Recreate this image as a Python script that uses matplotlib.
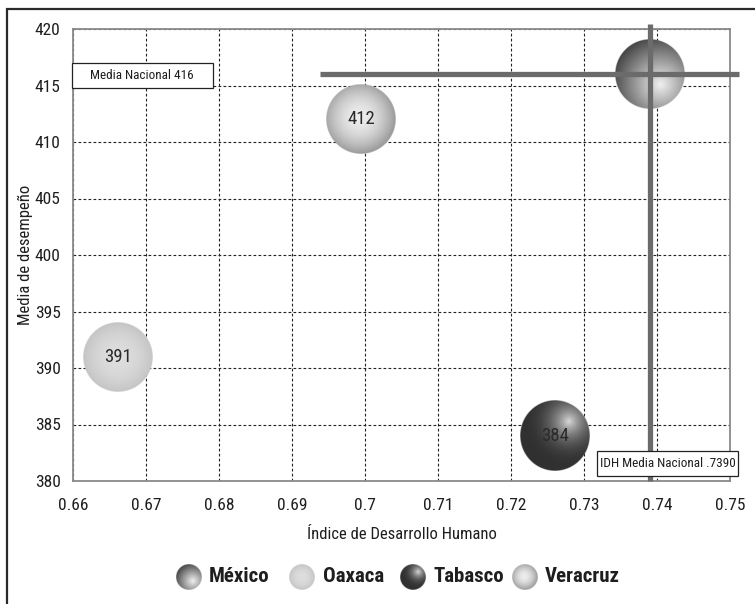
import numpy as np
import matplotlib
matplotlib.use("Agg")
import matplotlib.pyplot as plt
from matplotlib import font_manager
from matplotlib.patches import Rectangle

# ---- data ----
estados = ["México", "Oaxaca", "Tabasco", "Veracruz"]
idh = [0.739, 0.6662, 0.726, 0.6995]
desempeno = [416, 391, 384, 412]
etiquetas = ["", "391", "384", "412"]
media_nacional = 416
idh_media_nacional = 0.7390
x_ticks = [0.66, 0.67, 0.68, 0.69, 0.7, 0.71, 0.72, 0.73, 0.74, 0.75]
x_tick_labels = ["0.66", "0.67", "0.68", "0.69", "0.7", "0.71", "0.72", "0.73", "0.74", "0.75"]
y_ticks = [380, 385, 390, 395, 400, 405, 410, 415, 420]

# ---- font: prefer a narrow sans ----
available = {f.name for f in font_manager.fontManager.ttflist}
for cand in ["Liberation Sans Narrow", "Arial Narrow", "Roboto Condensed",
             "Open Sans Condensed", "DejaVu Sans Condensed", "Liberation Sans"]:
    if cand in available:
        FONT = cand
        break
else:
    FONT = "DejaVu Sans"
plt.rcParams["font.family"] = [FONT, "DejaVu Sans"]

W, H, DPI = 755, 604, 100
fig = plt.figure(figsize=(W / DPI, H / DPI), dpi=DPI)
fig.patch.set_facecolor("white")


def px_axes(l, t, r, b):
    return [l / W, 1 - b / H, (r - l) / W, (b - t) / H]


ax = fig.add_axes(px_axes(73, 29, 730, 481))
ax.set_xlim(0.66, 0.75)
ax.set_ylim(380, 420)
ax.set_xticks(x_ticks)
ax.set_xticklabels(x_tick_labels)
ax.set_yticks(y_ticks)
ax.tick_params(length=0, labelsize=12.5, colors="#1e1e1e", pad=9)
ax.tick_params(axis="x", pad=12)
for side, sp in ax.spines.items():
    sp.set_color("#8a8a8a")
    sp.set_linewidth(1.3)
ax.grid(True, color="#222222", linestyle=(0, (2.5, 2.0)), linewidth=0.8)
ax.set_axisbelow(True)
ax.set_xlabel("Índice de Desarrollo Humano", fontsize=12, color="#1e1e1e", labelpad=10)
ax.set_ylabel("Media de desempeño", fontsize=12, color="#1e1e1e")
ax.yaxis.set_label_coords(-0.061, 0.5)


# ---- shaded sphere images ----
def sphere(style, n=240):
    yy, xx = np.mgrid[-1:1:n * 1j, -1:1:n * 1j]  # yy grows downward
    r = np.hypot(xx, yy)
    if style == "México":
        d = np.hypot(xx - 0.30, yy - 0.30)
        t = np.clip(d / 1.55, 0, 1)
        v = 0.94 - (0.94 - 0.20) * t ** 1.0
    elif style == "Tabasco":
        d = np.hypot(xx - 0.40, yy + 0.40)
        t = np.clip(d / 1.35, 0, 1)
        v = 0.19 + (0.85 - 0.19) * (1 - t) ** 2.4
    elif style == "Veracruz":
        d = np.hypot(xx + 0.05, yy + 0.05)
        t = np.clip(d / 1.05, 0, 1)
        v = 0.93 - (0.93 - 0.60) * t ** 1.8
    else:  # Oaxaca
        d = np.hypot(xx, yy)
        t = np.clip(d / 1.0, 0, 1)
        v = 0.87 - (0.87 - 0.77) * t ** 2
    img = np.zeros((n, n, 4))
    img[..., 0] = img[..., 1] = img[..., 2] = v
    img[..., 3] = np.clip((1 - r) * n / 2.0, 0, 1)
    return img


R_PX = 35.0
ax_w_px, ax_h_px = 730 - 73, 481 - 29
rx = R_PX / ax_w_px * (0.75 - 0.66)
ry = R_PX / ax_h_px * (420 - 380)

for est, x, y, lab in zip(estados, idh, desempeno, etiquetas):
    ax.imshow(sphere(est), extent=[x - rx, x + rx, y - ry, y + ry],
              aspect="auto", zorder=3, interpolation="bilinear")
    if lab:
        ax.text(x, y, lab, ha="center", va="center", fontsize=13.5,
                color="#2a2a2a", zorder=4)
ax.set_xlim(0.66, 0.75)
ax.set_ylim(380, 420)

# ---- national mean lines ----
ax.plot([0.6939, 0.7512], [media_nacional, media_nacional], color="#6b6b6b",
        linewidth=3.8, solid_capstyle="butt", zorder=5, clip_on=False)
ax.plot([idh_media_nacional, idh_media_nacional], [380, 420.4], color="#6b6b6b",
        linewidth=3.8, solid_capstyle="butt", zorder=5, clip_on=False)

# ---- overlay in pixel coordinates: label boxes, legend, frame ----
ov = fig.add_axes([0, 0, 1, 1])
ov.set_xlim(0, W)
ov.set_ylim(H, 0)
ov.axis("off")
ov.patch.set_alpha(0)

ov.add_patch(Rectangle((71.5, 63), 141, 25, facecolor="white", edgecolor="#222222",
                       linewidth=0.9, zorder=6))
ov.text(142, 75.5, f"Media Nacional {media_nacional}", ha="center", va="center",
        fontsize=9.5, color="#1e1e1e", zorder=7)
ov.add_patch(Rectangle((597, 451), 141, 25, facecolor="white", edgecolor="#222222",
                       linewidth=0.9, zorder=6))
ov.text(667.5, 463.5, "IDH Media Nacional " + f"{idh_media_nacional:.4f}"[1:],
        ha="center", va="center", fontsize=9.5, color="#1e1e1e", zorder=7)

# legend
leg_marker_x = [189, 302, 413, 525]
leg_text_x = [209, 323, 433, 545]
leg_y = 577
leg_r = 12.8
for est, mx, tx in zip(estados, leg_marker_x, leg_text_x):
    ov.imshow(sphere(est, 120), extent=[mx - leg_r, mx + leg_r, leg_y + leg_r, leg_y - leg_r],
              aspect="auto", zorder=3, interpolation="bilinear")
    ov.text(tx, leg_y, est, ha="left", va="center", fontsize=15,
            fontweight="bold", color="#1e1e1e")
ov.set_xlim(0, W)
ov.set_ylim(H, 0)

# outer frame
ov.plot([6.5, 6.5, W + 5], [H + 5, 8.5, 8.5], color="#2a2a2a", linewidth=1.6,
        solid_joinstyle="miter", clip_on=False)

fig.savefig("out.png", dpi=DPI, facecolor="white")
